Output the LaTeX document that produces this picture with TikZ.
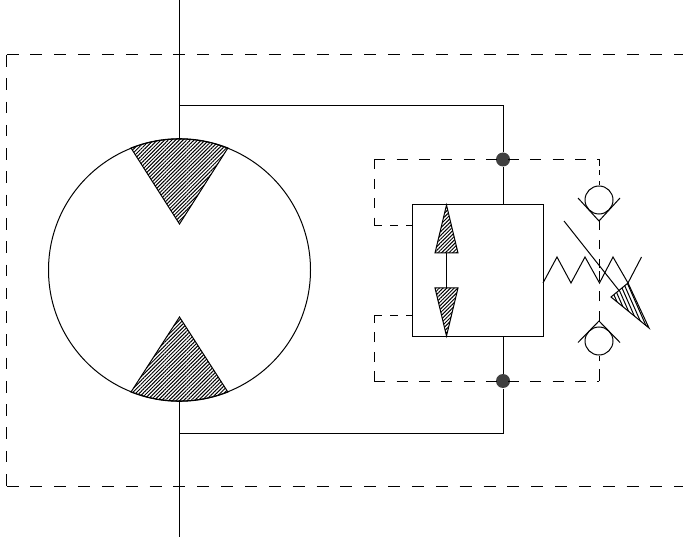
\documentclass[tikz,border=0pt]{standalone}
\usepackage{tikz}
\usetikzlibrary{arrows.meta, patterns.meta}

\begin{document}
\begin{tikzpicture}[x=1pt, y=-1pt, line width=1pt,
    pilotH/.style={dash pattern=on 11pt off 11.3pt},
    pilotV/.style={dash pattern=on 10pt off 9.4pt},
    pilotS/.style={dash pattern=on 8pt off 8pt},
    pilotOuterH/.style={dash pattern=on 12pt off 11.85pt},
    pilotOuterV/.style={dash pattern=on 11.64pt off 11.64pt},
    hatchR/.style={draw, pattern={Lines[angle=45, distance=2.6pt, line width=1pt]}}]
      \useasboundingbox (0,0) rectangle (683,540);

      % motor and main line
      \node[draw, circle, inner sep=0pt, minimum size=262pt] (motor) at (179.5,270) {};
      \coordinate (inTop) at (179.5,0);
      \coordinate (inBottom) at (179.5,537);
      \coordinate (teeTop) at (179.5,106);
      \coordinate (teeBottom) at (179.5,433);
      \draw (inTop) -- (motor.north);
      \draw (motor.south) -- (inBottom);

      \draw[hatchR] (131,148) arc[start angle=248.3, end angle=291.7, radius=131] -- (179.5,224) -- cycle;
      \draw[hatchR] (131,392) arc[start angle=111.7, end angle=68.3, radius=131] -- (179.5,317) -- cycle;

      % valve block
      \node[draw, minimum width=131pt, minimum height=131pt, inner sep=0pt] (block) at (477.5,270.5) {};
      \node[circle, fill=black!75, inner sep=0pt, minimum size=14pt] (dotTop) at (503,159.5) {};
      \node[circle, fill=black!75, inner sep=0pt, minimum size=14pt] (dotBottom) at (503,381) {};
      \draw (teeTop) -- (503,106) -- (dotTop);
      \draw (dotTop) -- (dotTop |- block.north);
      \draw (teeBottom) -- (503,433) -- (dotBottom);
      \draw (dotBottom) -- (dotBottom |- block.south);

      \draw[hatchR] (446.5,205) -- (458,253) -- (435,253) -- cycle;
      \draw[hatchR] (446.5,336) -- (458,288) -- (435,288) -- cycle;
      \draw (446.5,253) -- (446.5,288);

      % check valves
      \node[draw, circle, inner sep=0pt, minimum size=28pt] (checkTop) at (599,200) {};
      \node[draw, circle, inner sep=0pt, minimum size=28pt] (checkBottom) at (599,341) {};
      \coordinate (seatTop) at (599,221);
      \coordinate (seatBottom) at (599,321);
      \coordinate (pilotMid) at (599,270);
      \draw (578,198) -- (seatTop) -- (620,198);
      \draw (578,342.5) -- (seatBottom) -- (620,342.5);

      % pilot lines
      \coordinate (cornerA) at (6.5,55);
      \coordinate (cornerB) at (6.5,486);
      \coordinate (cornerC) at (374.3,159.5);
      \coordinate (cornerD) at (374.3,381);
      \coordinate (cornerE) at (599,159.5);
      \coordinate (cornerF) at (599,381);
      \coordinate (portA) at (412,226);
      \coordinate (portB) at (412,315);
      \draw[pilotOuterH] (cornerA) -- (683,55);
      \draw[pilotOuterV] (cornerA) -- (cornerB);
      \draw[pilotOuterH] (cornerB) -- (683,486);
      \draw[pilotH] (cornerC) -- (cornerE);
      \draw[pilotH] (cornerD) -- (cornerF);
      \draw[pilotV] (cornerC) -- (374.3,226);
      \draw[pilotS] (374.3,226) -- (portA);
      \draw[pilotV] (cornerD) -- (374.3,315);
      \draw[pilotS] (374.3,315) -- (portB);
      \draw[dash pattern=on 7pt off 4pt on 5pt off 6pt on 5pt] (cornerE) -- (checkTop);
      \draw[dash pattern=on 9.5pt off 9.5pt] (seatTop) -- (pilotMid);
      \draw[dash pattern=on 10pt off 10pt] (seatBottom) -- (pilotMid);
      \draw[dash pattern=on 12pt off 8pt on 6pt] (cornerF) -- (checkBottom);

      % spring
      \draw (543,283) -- (557,257) -- (571,283) -- (585,257) -- (599.5,283) -- (613,257) -- (628,283) -- (641.5,257);
      \draw (564,221) -- (619,290.5);
      \begin{scope}
        \clip (611,297) -- (628,283) -- (649,328) -- cycle;
        \foreach \i in {0,...,8}
          \draw ({600+3.7*\i},280) -- ++(22,50);
      \end{scope}
      \draw (611,297) -- (628,283) -- (649,328) -- cycle;
    \end{tikzpicture}
\end{document}
